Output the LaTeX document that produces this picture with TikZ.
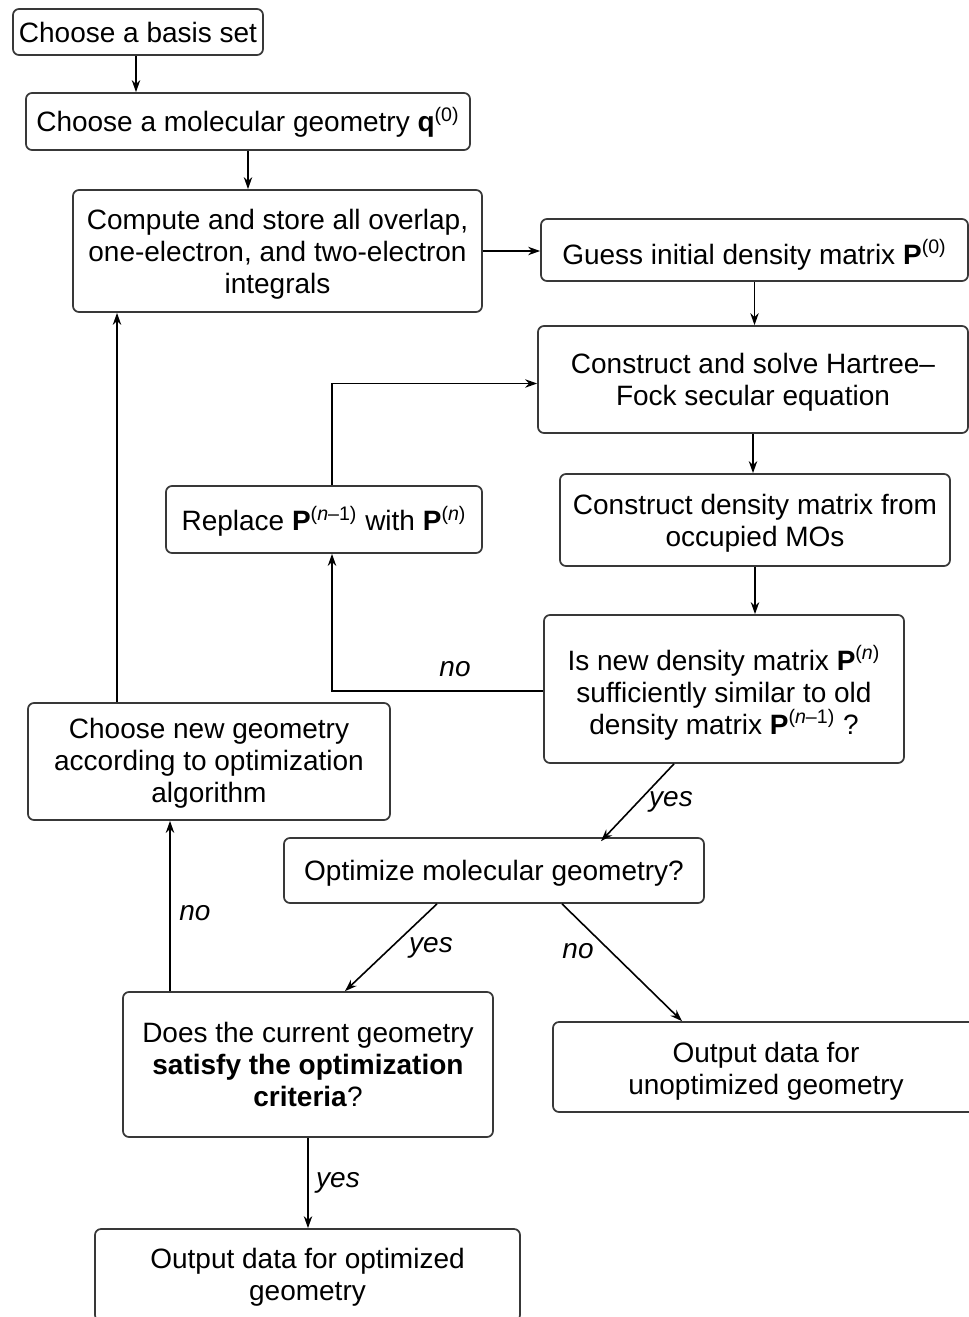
\documentclass[tikz,border=0pt]{standalone}
\usepackage{fontspec}
\setmainfont{Liberation Sans}
\usetikzlibrary{arrows.meta}
\newcommand{\sym}[1]{\textbf{#1}}
\newcommand{\supr}[1]{\textsuperscript{(#1)}}
\begin{document}
\begin{tikzpicture}[x=0.5pt,y=-0.5pt,
  box/.style={draw=black!78, line width=0.85pt, rounded corners=3pt,
    inner sep=0pt, fill=white},
  txt/.style={align=center, inner sep=0pt, font=\fontsize{14}{16}\selectfont},
  link/.style={draw=black, line width=0.8pt, -{Stealth[length=6pt,width=4.2pt]}},
  lbl/.style={font=\fontsize{14}{16}\selectfont\itshape, inner sep=0pt}]
\clip (0,0) rectangle (969,1317);
\fill[white] (0,0) rectangle (969,1317);

% boxes (frames), then their texts
\node[box, minimum width=125pt, minimum height=23pt] (basis) at (138,32) {};
\node[txt] (basis-t) at (basis.center) {Choose a basis set};

\node[box, minimum width=222pt, minimum height=28.5pt] (geom) at (248,121.5) {};
\node[txt] (geom-t) at ([yshift=-0.5pt]geom.center) {Choose a molecular geometry \sym{q}\supr{0}};

\node[box, minimum width=204.5pt, minimum height=61pt] (ints) at (277.5,251) {};
\node[txt] (ints-t) at ([yshift=-1.5pt]ints.center)
  {Compute and store all overlap,\\one-electron, and two-electron\\integrals};

\node[box, minimum width=213.5pt, minimum height=31pt] (guess) at (754.5,250) {};
\node[txt] (guess-t) at ([yshift=-2.5pt]guess.center) {Guess initial density matrix \sym{P}\supr{0}};

\node[box, minimum width=215pt, minimum height=53.5pt] (hf) at (753,379.5) {};
\node[txt] (hf-t) at ([yshift=-1.5pt]hf.center) {Construct and solve Hartree–\\Fock secular equation};

\node[box, minimum width=195pt, minimum height=46pt] (dens) at (755,520) {};
\node[txt] (dens-t) at ([yshift=-1.5pt]dens.center) {Construct density matrix from\\occupied MOs};

\node[box, minimum width=158pt, minimum height=33.5pt] (repl) at (324,519.5) {};
\node[txt] (repl-t) at ([yshift=-1pt]repl.center)
  {Replace \sym{P}\supr{\textit{n}–1} with \sym{P}\supr{\textit{n}}};

\node[box, minimum width=180pt, minimum height=74pt] (conv) at (724,689) {};
\node[txt] (conv-t) at ([yshift=-2pt]conv.center)
  {Is new density matrix \sym{P}\supr{\textit{n}}\\sufficiently similar to old\\density matrix \sym{P}\supr{\textit{n}–1} ?};

\node[box, minimum width=181pt, minimum height=58.5pt] (newg) at (209,761.5) {};
\node[txt] (newg-t) at ([yshift=-1pt]newg.center) {Choose new geometry\\according to optimization\\algorithm};

\node[box, minimum width=210pt, minimum height=32.5pt] (opt) at (494,870.5) {};
\node[txt] (opt-t) at ([yshift=-1.5pt]opt.center) {Optimize molecular geometry?};

\node[box, minimum width=185pt, minimum height=72.5pt] (crit) at (308,1064.5) {};
\node[txt] (crit-t) at (crit.center)
  {Does the current geometry\\\textbf{satisfy the optimization}\\\textbf{criteria}?};

\node[box, minimum width=213pt, minimum height=45pt] (unopt) at (766,1067) {};
\node[txt] (unopt-t) at ([yshift=-2pt]unopt.center) {Output data for\\unoptimized geometry};

\node[box, minimum width=212.5pt, minimum height=46pt] (done) at (307.5,1275) {};
\node[txt] (done-t) at ([yshift=-1pt]done.center) {Output data for optimized\\geometry};

% connectors
\draw[link] ([xshift=-1pt]basis.south) -- ([xshift=-1pt]basis.south |- geom.north);
\draw[link] (geom.south) -- (geom.south |- ints.north);
\draw[link] (ints.east) -- (ints.east -| guess.west);
\draw[link] (guess.south) -- (guess.south |- hf.north);
\draw[link] (hf.south) -- (hf.south |- dens.north);
\draw[link] (dens.south) -- (dens.south |- conv.north);
\draw[link] ([yshift=-1pt]conv.west) -| ([xshift=4pt]repl.south);
\draw[link] ([xshift=4pt]repl.north) |- ([yshift=-2pt]hf.west);
\draw[link] ([xshift=-25pt]conv.south) -- ([xshift=53.5pt,yshift=-2pt]opt.north);
\draw[link] ([xshift=-28.5pt]opt.south) -- ([xshift=18.5pt]crit.north);
\draw[link] ([xshift=34pt]opt.south) -- ([xshift=-42pt]unopt.north);
\draw[link] ([xshift=-69pt]crit.north) -- ([xshift=-69pt]crit.north |- newg.south);
\draw[link] ([xshift=-46pt]newg.north) -- ([xshift=-46pt]newg.north |- ints.south);
\draw[link] (crit.south) -- (crit.south |- done.north);

% branch labels
\node[lbl] (l1) at (455,669) {no};
\node[lbl] (l2) at (671,802) {yes};
\node[lbl] (l3) at (431,948) {yes};
\node[lbl] (l4) at (578,951) {no};
\node[lbl] (l5) at (195,913) {no};
\node[lbl] (l6) at (338,1183) {yes};
\end{tikzpicture}
\end{document}
